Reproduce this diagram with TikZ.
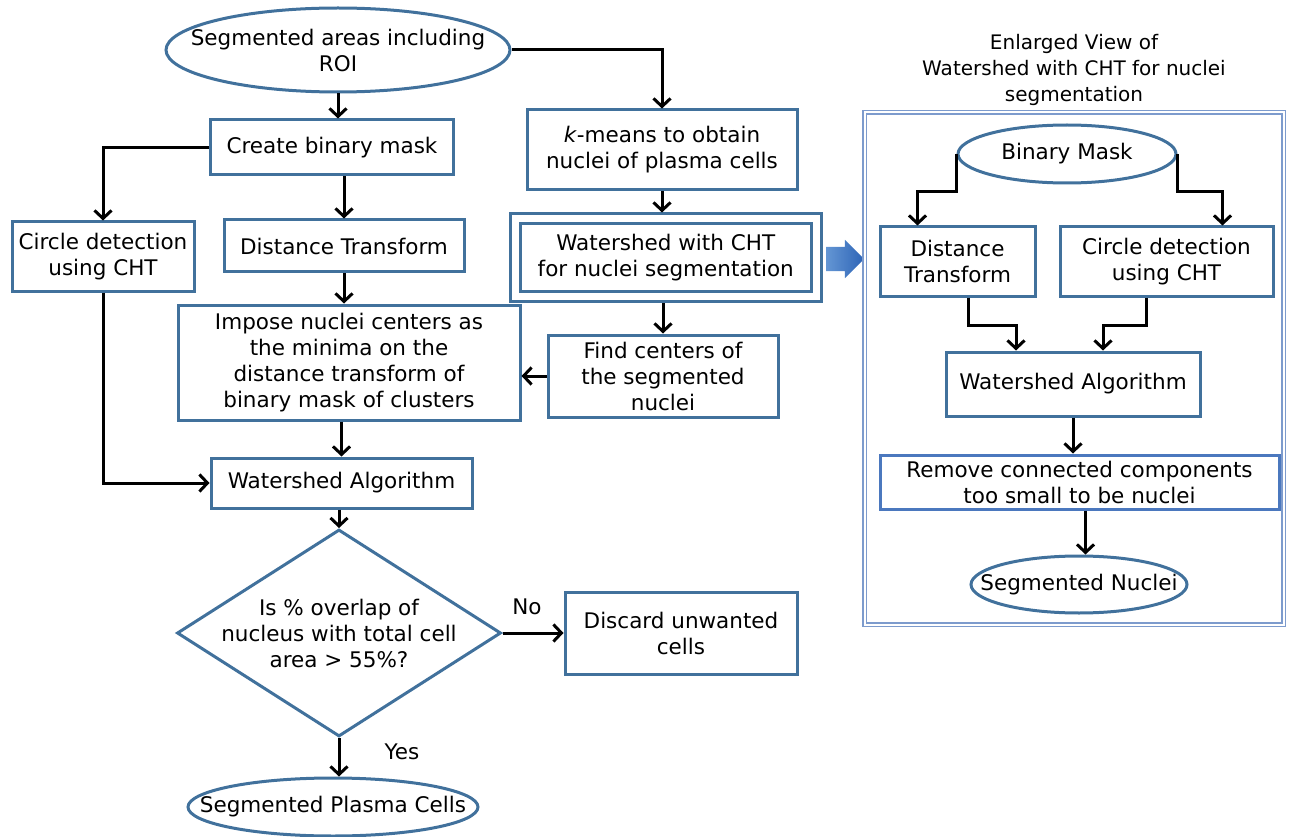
\documentclass[tikz,border=0pt]{standalone}
\usepackage{fontspec}
\setmainfont{DejaVu Sans}
\usetikzlibrary{arrows.meta,shapes,calc,positioning}
\definecolor{boxblue}{RGB}{65,113,156}
\definecolor{frameblue}{RGB}{125,155,205}
\definecolor{brightblue}{RGB}{75,120,190}
\definecolor{arrowlight}{RGB}{100,150,212}
\definecolor{arrowdark}{RGB}{45,100,182}

\begin{document}
\begin{tikzpicture}
[x=1pt,y=-1pt,
every node/.style={font=\fontsize{21.5}{26}\selectfont},
process/.style={shape=rectangle,draw=boxblue,line width=3pt,align=center,inner sep=0pt},
term/.style={shape=ellipse,draw=boxblue,line width=3pt,inner sep=0pt},
decision/.style={shape=diamond,draw=boxblue,line width=3pt,inner sep=0pt},
dedge/.style={>={Straight Barb[length=8pt,width=17pt]}, line width=3pt}]

\useasboundingbox (0,0) rectangle (1291,837);

% main flow
\node (roi) [term,minimum width=344pt,minimum height=84pt,
  label={[align=center]center:Segmented areas including\\ROI}] at (338,50) {};
\node (mask) [process,minimum width=243pt,minimum height=55pt] at (332,147.5) {Create binary mask};
\node (cht1) [process,minimum width=182pt,minimum height=69pt] at (103,256.5) {Circle detection\\using CHT};
\node (dt1) [process,minimum width=240pt,minimum height=52pt] at (344,246) {Distance Transform};
\node (impose) [process,minimum width=342pt,minimum height=115pt] at (349,362.5)
  {Impose nuclei centers as\\the minima on the\\distance transform of\\binary mask of clusters};
\node (ws1) [process,minimum width=261pt,minimum height=50pt] at (341.5,483) {Watershed Algorithm};
\node (dec) [decision,minimum width=324pt,minimum height=207pt,
  label={[align=center]center:Is \% overlap of\\nucleus with total cell\\area > 55\%?}] at (339,633) {};
\node (discard) [process,minimum width=232pt,minimum height=82pt] at (681,633) {Discard unwanted\\cells};
\node (seg) [term,minimum width=290pt,minimum height=58pt,
  label={center:Segmented Plasma Cells}] at (333,807) {};
\node (no) at (527,607) {No};
\node (yes) at (402,752) {Yes};

\node (kmeans) [process,minimum width=270pt,minimum height=80pt] at (662,150)
  {\textit{k}-means to obtain\\nuclei of plasma cells};
\node (wscht) [process,double=white,line width=3pt,double distance=7pt,outer sep=6.5pt,
  minimum width=300.5pt,minimum height=77.5pt] at (665.75,257.75)
  {Watershed with CHT\\for nuclei segmentation};
\node (findc) [process,minimum width=230pt,minimum height=82pt] at (663,376)
  {Find centers of\\the segmented\\nuclei};

\node (zoomarrow) [single arrow,draw=none,inner sep=12pt,minimum height=38pt,
  single arrow head extend=7pt,left color=arrowlight,right color=arrowdark] at (839,259) {};

\draw[dedge,->] (roi.south) -- (roi.south |- mask.north);
\draw[dedge,->] (roi.east) -| (kmeans.north);
\draw[dedge,->] (mask.west) -| (cht1.north);
\draw[dedge,->] (dt1.north |- mask.south) -- (dt1.north);
\draw[dedge,->] (dt1.south) -- (dt1.south |- impose.north);
\draw[dedge,->] (ws1.north |- impose.south) -- (ws1.north);
\draw[dedge,->] (cht1.south) |- (ws1.west);
\draw[dedge,->] (dec.north |- ws1.south) -- (dec.north);
\draw[dedge,->] (dec.east) -- (discard.west);
\draw[dedge,->] (dec.south) -- (dec.south |- seg.north);
\draw[dedge,->] (kmeans.south) -- (kmeans.south |- wscht.north);
\draw[dedge,->] (findc.north |- wscht.south) -- (findc.north);
\draw[dedge,->] (findc.west) -- (findc.west -| impose.east);

% enlarged view
\node (title) [align=center,font=\fontsize{20}{26}\selectfont] at (1074,70)
  {Enlarged View of\\Watershed with CHT for nuclei\\segmentation};
\node (frame) [draw=frameblue,line width=1.3pt,double=white,double distance=2pt,
  minimum width=419pt,minimum height=512pt,inner sep=0pt] at (1074,368.5) {};
\node (bm) [term,minimum width=218pt,minimum height=58pt,label={center:Binary Mask}] at (1067,154) {};
\node (dt2) [process,minimum width=155pt,minimum height=69pt] at (957.5,261.5) {Distance\\Transform};
\node (cht2) [process,minimum width=213pt,minimum height=69pt] at (1166.5,261.5) {Circle detection\\using CHT};
\node (ws2) [process,minimum width=254pt,minimum height=64pt] at (1073,384) {Watershed Algorithm};
\node (remove) [process,draw=brightblue,minimum width=399pt,minimum height=54pt] at (1079.5,482)
  {Remove connected components\\too small to be nuclei};
\node (segn) [term,minimum width=216pt,minimum height=57pt,label={center:Segmented Nuclei}] at (1079,584.5) {};

\draw[dedge,->] (bm.west) -- ++(0,38) -| ([xshift=-40pt]dt2.north);
\draw[dedge,->] (bm.east) -- ++(0,38) -| ([xshift=56pt]cht2.north);
\draw[dedge,->] ([xshift=11pt]dt2.south) -- ++(0,28) -| ([xshift=-57pt]ws2.north);
\draw[dedge,->] ([xshift=-20pt]cht2.south) -- ++(0,28) -| ([xshift=30pt]ws2.north);
\draw[dedge,->] (ws2.south) -- (ws2.south |- remove.north);
\draw[dedge,->] ([xshift=6pt]remove.south) -- ([xshift=6.5pt]segn.north);

\end{tikzpicture}
\end{document}
